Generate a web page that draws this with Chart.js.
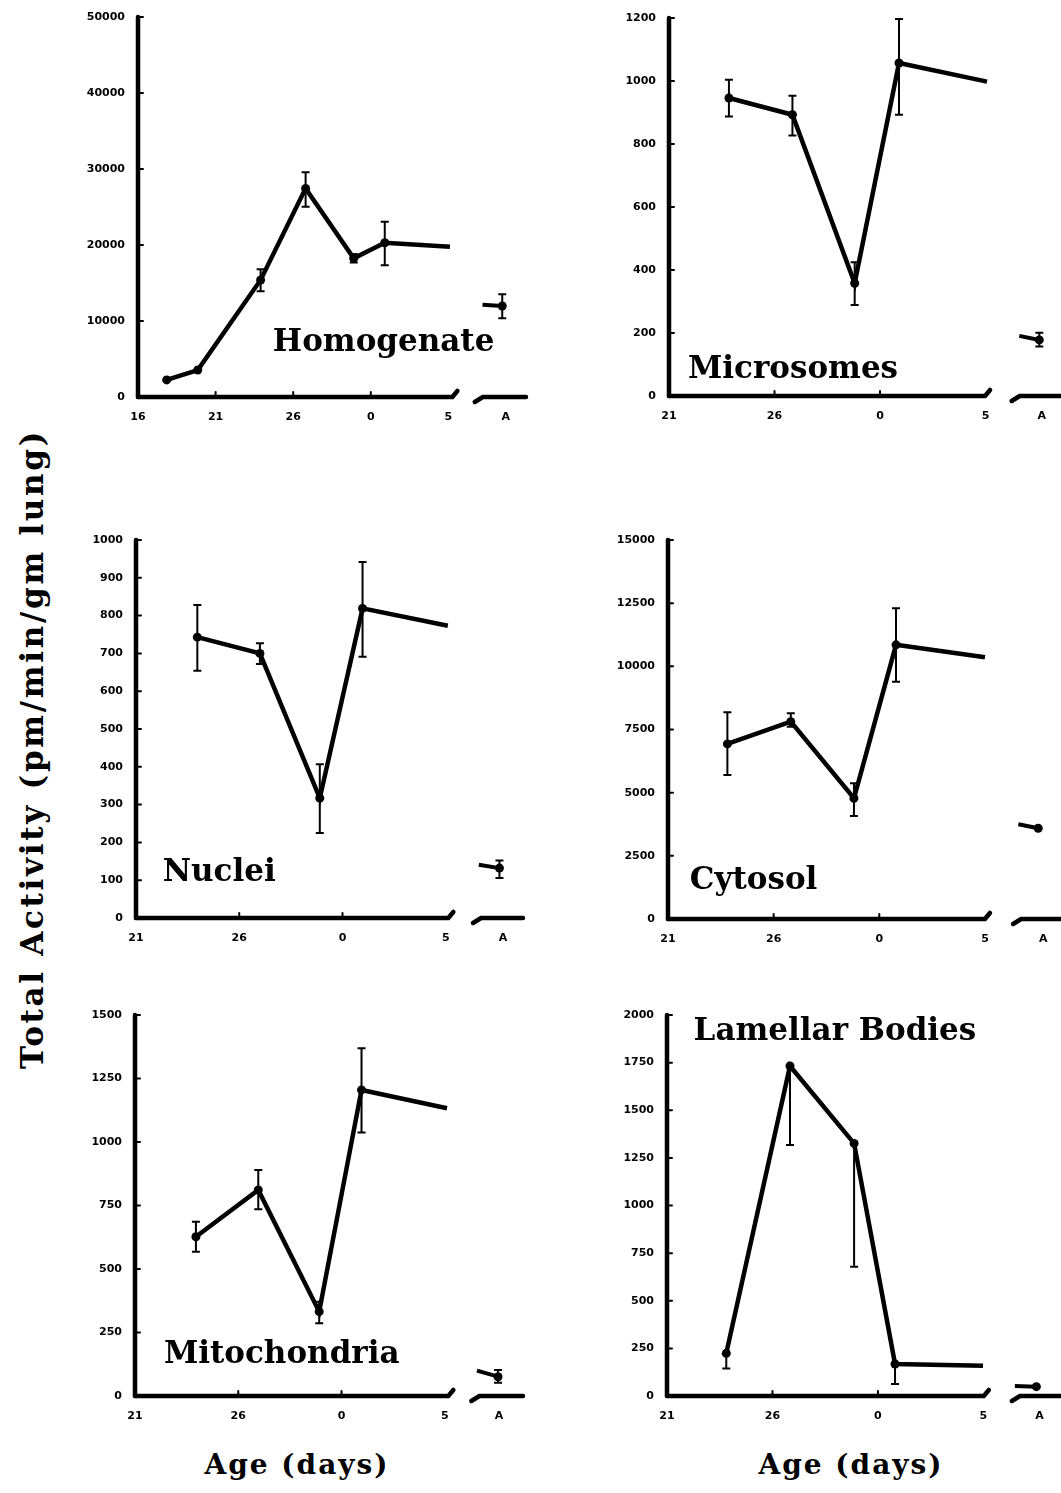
<!DOCTYPE html>
<html>
<head>
<meta charset="utf-8">
<script src="https://cdn.jsdelivr.net/npm/chart.js@4.4.0/dist/chart.umd.min.js"></script>
<style>
  html, body { margin: 0; padding: 0; background: #fff; width: 1061px; height: 1493px; overflow: hidden; }
  canvas { position: absolute; }
  .ytitle { position: absolute; left: 32px; top: 749px; transform: translate(-50%, -50%) rotate(-90deg);
            font: bold 31px "DejaVu Serif"; letter-spacing: 2.7px; white-space: nowrap; line-height: 31px; }
  .xtitle { position: absolute; top: 1451px; transform: translateX(-50%); font: bold 28px "DejaVu Serif";
            letter-spacing: 2px; white-space: nowrap; line-height: 28px; }
</style>
</head>
<body>
<div class="ytitle">Total Activity (pm/min/gm lung)</div>
<div class="xtitle" style="left:297px">Age (days)</div>
<div class="xtitle" style="left:851px">Age (days)</div>

<script>
// x axis: gestational day 16..31, then postnatal days (31 = day 0), then adult "A"
const tickDays = [16, 21, 26, 31, 36];
const tickLabels = ['16', '21', '26', '0', '5'];
const adultLabel = 'A';

// Homogenate
const homDays = [17.85, 19.85, 23.9, 26.8, 29.9, 31.9, 36.1];
const homMean = [2250, 3550, 15400, 27450, 18250, 20300, 19780];
const homHi = [null, null, 16800, 29560, 18800, 23070, null];
const homLo = [null, null, 13900, 25040, 17700, 17330, null];
const homAdultDays = [38.2, 39.47];
const homAdult = [12150, 11970];
const homAdultErr = [13510, 10350];

// Microsomes
const micDays = [23.84, 26.85, 29.8, 31.9, 36.07];
const micMean = [946, 893, 358, 1057, 998];
const micHi = [1004, 953, 425, 1197, null];
const micLo = [887, 827, 289, 893, null];
const micAdultDays = [37.6, 38.55];
const micAdult = [191, 178];
const micAdultErr = [201, 157];

// Nuclei
const nucDays = [23.97, 27.0, 29.9, 31.97, 36.1];
const nucMean = [743, 700, 317, 819, 773];
const nucHi = [828, 727, 407, 942, null];
const nucLo = [654, 672, 225, 691, null];
const nucAdultDays = [37.6, 38.6];
const nucAdult = [141, 132];
const nucAdultErr = [152, 106];

// Cytosol
const cytDays = [23.81, 26.81, 29.8, 31.79, 36.0];
const cytMean = [6930, 7810, 4780, 10850, 10360];
const cytHi = [8180, 8140, 5370, 12300, null];
const cytLo = [5700, 7610, 4080, 9390, null];
const cytAdultDays = [37.58, 38.52];
const cytAdult = [3750, 3590];
const cytAdultErr = [null, null];

// Mitochondria
const mitDays = [23.95, 26.97, 29.92, 31.97, 36.11];
const mitMean = [627, 811, 332, 1205, 1133];
const mitHi = [686, 890, 371, 1369, null];
const mitLo = [568, 735, 286, 1037, null];
const mitAdultDays = [37.56, 38.58];
const mitAdult = [100, 76];
const mitAdultErr = [102, 52];

// Lamellar Bodies (only lower error bars shown)
const lamDays = [23.81, 26.83, 29.87, 31.81, 35.98];
const lamMean = [224, 1732, 1326, 168, 159];
const lamHi = [null, null, null, null, null];
const lamLo = [145, 1317, 679, 63, null];
const lamAdultDays = [37.49, 38.51];
const lamAdult = [52, 49];
const lamAdultErr = [null, null];

const panels = [
  { name: 'Homogenate', days: homDays, mean: homMean, hi: homHi, lo: homLo,
    aDays: homAdultDays, aVals: homAdult, aErr: homAdultErr,
    yMax: 50000, yStep: 10000, xMin: 16, xMax: 41, aTick: 39.7, breakFrom: 36.45, breakTo: 37.7,
    box: { left: 138, top: 17, bottom: 397, right: 525.5 }, labelAt: [24.69, 6050] },
  { name: 'Microsomes', days: micDays, mean: micMean, hi: micHi, lo: micLo,
    aDays: micAdultDays, aVals: micAdult, aErr: micAdultErr,
    yMax: 1200, yStep: 200, xMin: 21, xMax: 39.72, aTick: 38.66, breakFrom: 36.12, breakTo: 37.24,
    box: { left: 669, top: 18, bottom: 396, right: 1064 }, labelAt: [21.9, 56] },
  { name: 'Nuclei', days: nucDays, mean: nucMean, hi: nucHi, lo: nucLo,
    aDays: nucAdultDays, aVals: nucAdult, aErr: nucAdultErr,
    yMax: 1000, yStep: 100, xMin: 21, xMax: 39.74, aTick: 38.77, breakFrom: 36.27, breakTo: 37.32,
    box: { left: 136, top: 540, bottom: 918, right: 523.3 }, labelAt: [22.29, 97] },
  { name: 'Cytosol', days: cytDays, mean: cytMean, hi: cytHi, lo: cytLo,
    aDays: cytAdultDays, aVals: cytAdult, aErr: cytAdultErr,
    yMax: 15000, yStep: 2500, xMin: 21, xMax: 39.74, aTick: 38.76, breakFrom: 36.14, breakTo: 37.33,
    box: { left: 668, top: 540, bottom: 919, right: 1064 }, labelAt: [22.03, 1175] },
  { name: 'Mitochondria', days: mitDays, mean: mitMean, hi: mitHi, lo: mitLo,
    aDays: mitAdultDays, aVals: mitAdult, aErr: mitAdultErr,
    yMax: 1500, yStep: 250, xMin: 21, xMax: 39.79, aTick: 38.63, breakFrom: 36.32, breakTo: 37.29,
    box: { left: 135, top: 1015, bottom: 1396, right: 523.3 }, labelAt: [22.4, 129] },
  { name: 'Lamellar Bodies', days: lamDays, mean: lamMean, hi: lamHi, lo: lamLo,
    aDays: lamAdultDays, aVals: lamAdult, aErr: lamAdultErr,
    yMax: 2000, yStep: 250, xMin: 21, xMax: 39.82, aTick: 38.66, breakFrom: 36.16, breakTo: 37.35,
    box: { left: 667, top: 1015, bottom: 1396, right: 1064 }, labelAt: [22.26, 1869] }
];

const padL = 75, padT = 20, padB = 45, padR = 10;
const tickFont = { family: 'DejaVu Sans', size: 11, weight: 'bold' };

function errorBar(ctx, px, yTop, yBot, capTop, capBot) {
  ctx.beginPath();
  ctx.moveTo(px, yTop);
  ctx.lineTo(px, yBot);
  if (capTop) { ctx.moveTo(px - 4, yTop); ctx.lineTo(px + 4, yTop); }
  if (capBot) { ctx.moveTo(px - 4, yBot); ctx.lineTo(px + 4, yBot); }
  ctx.stroke();
}

function makeDecor(p) {
  return {
    id: 'decor',
    afterDatasetsDraw(chart) {
      const { ctx, chartArea: a, scales: { x, y } } = chart;
      ctx.save();
      ctx.strokeStyle = '#000';
      ctx.fillStyle = '#000';
      ctx.lineCap = 'round';

      // y axis
      ctx.lineWidth = 4.5;
      ctx.beginPath();
      ctx.moveTo(a.left, a.top);
      ctx.lineTo(a.left, a.bottom);
      ctx.stroke();

      // x axis with break before the adult segment
      const b1 = x.getPixelForValue(p.breakFrom);
      const b2 = x.getPixelForValue(p.breakTo);
      ctx.beginPath();
      ctx.moveTo(a.left, a.bottom);
      ctx.lineTo(b1 - 3, a.bottom);
      ctx.lineTo(b1 + 2, a.bottom - 6);
      ctx.stroke();
      ctx.beginPath();
      ctx.moveTo(b2, a.bottom + 5);
      ctx.lineTo(b2 + 8, a.bottom);
      ctx.lineTo(a.right, a.bottom);
      ctx.stroke();

      // small inward tick marks
      ctx.lineWidth = 2;
      y.ticks.forEach(t => {
        if (t.value === 0) return;
        const py = y.getPixelForValue(t.value);
        ctx.beginPath();
        ctx.moveTo(a.left, py);
        ctx.lineTo(a.left + 5, py);
        ctx.stroke();
      });
      tickDays.forEach(d => {
        if (d <= p.xMin || d >= 36) return;
        const px = x.getPixelForValue(d);
        ctx.beginPath();
        ctx.moveTo(px, a.bottom);
        ctx.lineTo(px, a.bottom - 5);
        ctx.stroke();
      });

      // error bars
      ctx.lineWidth = 2;
      ctx.lineCap = 'butt';
      p.days.forEach((d, i) => {
        const hi = p.hi[i], lo = p.lo[i];
        if (hi === null && lo === null) return;
        const px = x.getPixelForValue(d);
        const yTop = y.getPixelForValue(hi !== null ? hi : p.mean[i]);
        const yBot = y.getPixelForValue(lo !== null ? lo : p.mean[i]);
        errorBar(ctx, px, yTop, yBot, hi !== null, lo !== null);
      });
      if (p.aErr[0] !== null) {
        const px = x.getPixelForValue(p.aDays[1]);
        errorBar(ctx, px, y.getPixelForValue(p.aErr[0]), y.getPixelForValue(p.aErr[1]), true, true);
      }

      // panel name
      ctx.font = 'bold 31px "DejaVu Serif"';
      ctx.textBaseline = 'alphabetic';
      ctx.textAlign = 'left';
      ctx.fillText(p.name, x.getPixelForValue(p.labelAt[0]), y.getPixelForValue(p.labelAt[1]));
      ctx.restore();
    }
  };
}

panels.forEach(p => {
  const canvas = document.createElement('canvas');
  const w = Math.round(p.box.right - p.box.left + padL + padR);
  const h = Math.round(p.box.bottom - p.box.top + padT + padB);
  canvas.width = w;
  canvas.height = h;
  canvas.style.width = w + 'px';
  canvas.style.height = h + 'px';
  canvas.style.left = (p.box.left - padL) + 'px';
  canvas.style.top = (p.box.top - padT) + 'px';
  document.body.appendChild(canvas);

  const xTicks = tickDays.filter(d => d >= p.xMin).concat([p.aTick]);
  const xLabels = tickLabels.filter((l, i) => tickDays[i] >= p.xMin).concat([adultLabel]);

  new Chart(canvas.getContext('2d'), {
    type: 'line',
    data: {
      datasets: [{
        data: p.days.map((d, i) => ({ x: d, y: p.mean[i] })),
        borderColor: '#000',
        backgroundColor: '#000',
        borderWidth: 4.5,
        pointRadius: p.days.map((d, i) => i === p.days.length - 1 ? 0 : 4.5),
        pointBorderWidth: 0,
        tension: 0
      }, {
        data: p.aDays.map((d, i) => ({ x: d, y: p.aVals[i] })),
        borderColor: '#000',
        backgroundColor: '#000',
        borderWidth: 4,
        pointRadius: [0, 4.5],
        pointBorderWidth: 0,
        tension: 0
      }]
    },
    options: {
      responsive: false,
      animation: false,
      devicePixelRatio: 1,
      layout: { padding: { top: padT, right: padR, left: 0, bottom: 0 } },
      plugins: { legend: { display: false }, tooltip: { enabled: false } },
      scales: {
        x: {
          type: 'linear',
          min: p.xMin,
          max: p.xMax,
          grid: { display: false, drawTicks: false },
          border: { display: false },
          afterFit: s => { s.height = padB; },
          afterBuildTicks: s => { s.ticks = xTicks.map(v => ({ value: v })); },
          ticks: {
            autoSkip: false,
            maxRotation: 0,
            padding: 14,
            color: '#000',
            font: tickFont,
            callback: (v, i) => xLabels[i]
          }
        },
        y: {
          min: 0,
          max: p.yMax,
          grid: { display: false, drawTicks: false },
          border: { display: false },
          afterFit: s => { s.width = padL; },
          ticks: {
            stepSize: p.yStep,
            padding: 13,
            color: '#000',
            font: tickFont,
            callback: v => String(v)
          }
        }
      }
    },
    plugins: [makeDecor(p)]
  });
});
</script>
</body>
</html>
